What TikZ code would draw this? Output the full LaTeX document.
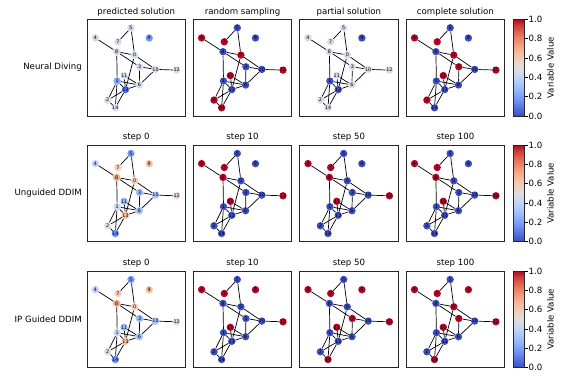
\documentclass[tikz,border=0pt]{standalone}
\usepackage{fontspec}
\setmainfont{DejaVu Sans}
\pgfdeclarelayer{bg}
\pgfsetlayers{bg,main}
% node colours
\definecolor{cwR}{RGB}{180,4,38}
\definecolor{cwB}{RGB}{59,76,192}
\definecolor{cwL}{RGB}{212,219,232}
\definecolor{cwMa}{RGB}{116,151,246}
\definecolor{cwMb}{RGB}{132,167,252}
\definecolor{cwMc}{RGB}{80,107,217}
\definecolor{cws0}{RGB}{240,205,187}
\definecolor{cws1}{RGB}{200,214,241}
\definecolor{cws2}{RGB}{221,221,221}
\definecolor{cws3}{RGB}{152,185,255}
\definecolor{cws4}{RGB}{190,210,246}
\definecolor{cws5}{RGB}{119,154,247}
\definecolor{cws6}{RGB}{160,192,255}
\definecolor{cws7}{RGB}{241,204,184}
\definecolor{cws8}{RGB}{246,170,140}
\definecolor{cws9}{RGB}{246,190,164}
\definecolor{cws10}{RGB}{163,194,255}
\definecolor{cws11}{RGB}{155,188,255}
\definecolor{cws12}{RGB}{232,214,205}
\definecolor{cws13}{RGB}{245,188,162}
\definecolor{cws14}{RGB}{105,139,239}
% colorbar stops
\definecolor{cb0}{RGB}{59,76,192}
\definecolor{cb1}{RGB}{77,104,215}
\definecolor{cb2}{RGB}{98,130,234}
\definecolor{cb3}{RGB}{119,154,247}
\definecolor{cb4}{RGB}{141,176,254}
\definecolor{cb5}{RGB}{163,194,255}
\definecolor{cb6}{RGB}{184,208,249}
\definecolor{cb7}{RGB}{204,217,238}
\definecolor{cb8}{RGB}{221,221,221}
\definecolor{cb9}{RGB}{236,211,197}
\definecolor{cb10}{RGB}{245,196,173}
\definecolor{cb11}{RGB}{247,177,148}
\definecolor{cb12}{RGB}{244,154,123}
\definecolor{cb13}{RGB}{236,127,99}
\definecolor{cb14}{RGB}{222,96,77}
\definecolor{cb15}{RGB}{203,62,56}
\definecolor{cb16}{RGB}{180,4,38}
\pgfdeclareverticalshading{cwbar}{100bp}{color(0bp)=(cb0); color(25bp)=(cb0);
 color(28.125bp)=(cb1); color(31.25bp)=(cb2); color(34.375bp)=(cb3); color(37.5bp)=(cb4);
 color(40.625bp)=(cb5); color(43.75bp)=(cb6); color(46.875bp)=(cb7); color(50bp)=(cb8);
 color(53.125bp)=(cb9); color(56.25bp)=(cb10); color(59.375bp)=(cb11); color(62.5bp)=(cb12);
 color(65.625bp)=(cb13); color(68.75bp)=(cb14); color(71.875bp)=(cb15); color(75bp)=(cb16);
 color(100bp)=(cb16)}
\def\PX{{47.6,30.2,20.7,52.6,8.3,44,52.3,31,29.7,62.2,68.5,37.1,89.7,38.5,28.3}}
\def\PY{{35.8,61.7,80.8,47.5,18.6,8.5,65.7,22.5,32.4,18.7,50.1,56.3,50.8,70.3,88.5}}
\tikzset{
 frame/.style={draw=black!85, line width=0.7pt},
 vnode/.style={circle, inner sep=0pt, minimum size=7.4pt, font=\fontsize{4.8}{4.8}\selectfont},
 edge/.style={draw=black, line width=0.7pt},
 ttl/.style={font=\fontsize{8.6}{10}\selectfont, inner sep=0pt},
 tick/.style={draw=black, line width=0.6pt},
}
\newcommand\drawpanel[5]{%
 \begin{scope}[shift={(#1,#2)}]
  \node[ttl, anchor=base] (#3-t) at (49.25,-5.3) {#4};
  \draw[frame] (0,0) rectangle (98.5,96.7);
  \foreach \cl [count=\k from 0] in {#5} {
   \pgfmathsetmacro\px{\PX[\k]}
   \pgfmathsetmacro\py{\PY[\k]}
   \node[vnode, fill=\cl] (#3-\k) at (\px,\py) {\k};
  }
  \begin{pgfonlayer}{bg}
   \foreach \a/\b in {4/8,5/7,5/0,8/0,8/3,0/10,0/13,3/10,3/6,10/12,10/6,8/1,11/6,1/6,13/6,11/13,1/13,1/2,1/14,2/13,2/14,13/14}
    \draw[edge] (#3-\a) -- (#3-\b);
  \end{pgfonlayer}
 \end{scope}}
\newcommand\drawcbar[2]{%
 \begin{scope}[shift={(513,#1)}]
  \shade[shading=cwbar] (0,0) rectangle (11,96.7);
  \draw[frame] (0,0) rectangle (11,96.7);
  \foreach \v in {0.0,0.2,0.4,0.6,0.8,1.0} {
   \pgfmathsetmacro\ty{96.7*(1-\v)}
   \draw[tick] (11,\ty) -- (14.5,\ty);
   \node[ttl, anchor=west] at (15.5,\ty) {\v};
  }
  \node[ttl, rotate=90] (#2) at (37.5,48.35) {Variable Value};
 \end{scope}}
\begin{document}
\begin{tikzpicture}[x=1pt,y=-1pt]
\useasboundingbox (0,0) rectangle (581,388);
% row labels
\node[ttl, anchor=east] (lab1) at (82,67.6) {Neural Diving};
\node[ttl, anchor=east] (lab2) at (82,193.3) {Unguided DDIM};
\node[ttl, anchor=east] (lab3) at (82,319.3) {IP Guided DDIM};
% row 1
\drawpanel{87}{19.3}{a1}{predicted solution}{cwL,cwMb,cwL,cwL,cwL,cwL,cwL,cwL,cwL,cwMa,cwL,cwL,cwL,cwMc,cwL}
\drawpanel{193.3}{19.3}{a2}{random sampling}{cwR,cwB,cwR,cwB,cwR,cwB,cwB,cwR,cwB,cwB,cwB,cwR,cwR,cwB,cwR}
\drawpanel{299.7}{19.3}{a3}{partial solution}{cwL,cwB,cwL,cwL,cwL,cwL,cwL,cwL,cwL,cwB,cwL,cwL,cwL,cwB,cwL}
\drawpanel{406.2}{19.3}{a4}{complete solution}{cwR,cwB,cwR,cwR,cwR,cwB,cwB,cwR,cwB,cwB,cwB,cwR,cwR,cwB,cwB}
\drawcbar{19.3}{cbar1}
% row 2
\drawpanel{87}{145}{b1}{step 0}{cws0,cws1,cws2,cws3,cws4,cws5,cws6,cws7,cws8,cws9,cws10,cws11,cws12,cws13,cws14}
\drawpanel{193.3}{145}{b2}{step 10}{cwB,cwB,cwB,cwB,cwR,cwB,cwB,cwR,cwR,cwB,cwB,cwR,cwR,cwB,cwB}
\drawpanel{299.7}{145}{b3}{step 50}{cwB,cwB,cwB,cwB,cwR,cwB,cwB,cwR,cwR,cwB,cwB,cwR,cwR,cwB,cwB}
\drawpanel{406.2}{145}{b4}{step 100}{cwB,cwB,cwB,cwB,cwR,cwB,cwB,cwR,cwR,cwB,cwB,cwR,cwR,cwB,cwB}
\drawcbar{145}{cbar2}
% row 3
\drawpanel{87}{271}{c1}{step 0}{cws0,cws1,cws2,cws3,cws4,cws5,cws6,cws7,cws8,cws9,cws10,cws11,cws12,cws13,cws14}
\drawpanel{193.3}{271}{c2}{step 10}{cwB,cwB,cwB,cwB,cwR,cwB,cwB,cwR,cwB,cwR,cwB,cwR,cwR,cwB,cwB}
\drawpanel{299.7}{271}{c3}{step 50}{cwB,cwB,cwB,cwR,cwR,cwB,cwB,cwR,cwB,cwR,cwB,cwR,cwR,cwB,cwR}
\drawpanel{406.2}{271}{c4}{step 100}{cwR,cwB,cwB,cwR,cwR,cwB,cwB,cwR,cwB,cwR,cwB,cwR,cwR,cwB,cwR}
\drawcbar{271}{cbar3}
\end{tikzpicture}
\end{document}
